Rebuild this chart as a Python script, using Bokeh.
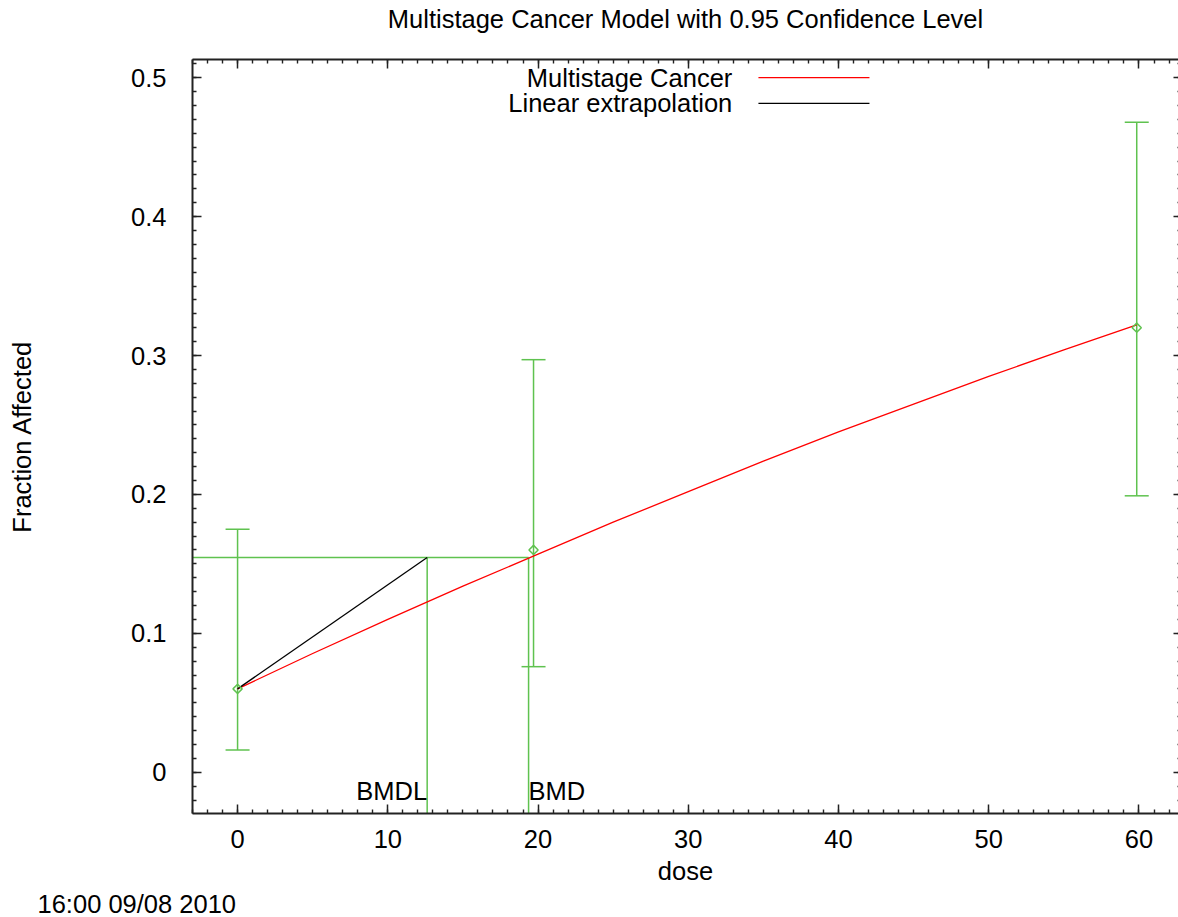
import math
from bokeh.plotting import figure
from bokeh.models import (Range1d, LinearAxis, SingleIntervalTicker, Whisker, TeeHead,
                          ColumnDataSource, Label, CustomJSTickFormatter, Title,
                          CustomLabelingPolicy)
from bokeh.embed import file_html
from bokeh.resources import INLINE

# ---- data ----
dose = [0.0, 19.7, 59.85]
frac_affected = [0.060, 0.160, 0.320]
ci_lower = [0.016, 0.076, 0.199]
ci_upper = [0.175, 0.297, 0.468]

model_dose = [0, 5, 10, 15, 20, 25, 30, 35, 40, 45, 50, 55, 59.85]
model_frac = [0.060, 0.0855, 0.110, 0.134, 0.157, 0.180, 0.202, 0.224,
              0.245, 0.265, 0.285, 0.304, 0.322]

bmd = 19.37
bmdl = 12.62
bmr_level = 0.1546
background = 0.060

title_text = "Multistage Cancer Model with 0.95 Confidence Level"
x_label = "dose"
y_label = "Fraction Affected"
stamp = "16:00 09/08 2010"
legend_labels = ["Multistage Cancer", "Linear extrapolation"]

# ---- styling ----
FONT = "Liberation Sans"
FS = "25.5px"
GREEN = "#5fc24f"
RED = "#ff0000"
BLACK = "#000000"
AXC = "#222222"

x_start, x_end = -3.0, 62.63
y_start, y_end = -0.0297, 0.5131

p = figure(width=1178, height=917, x_range=Range1d(x_start, x_end),
           y_range=Range1d(y_start, y_end), output_backend="svg",
           toolbar_location=None, min_border_left=192, min_border_right=0,
           min_border_top=59, min_border_bottom=104)
p.xgrid.visible = False
p.ygrid.visible = False
p.outline_line_color = None
p.background_fill_color = "white"
p.border_fill_color = "white"
p.title.visible = False

yfmt = CustomJSTickFormatter(code="return Number(tick.toFixed(2)).toString();")
no_labels = CustomLabelingPolicy(code="""
try { for (let i = 0; i < indices.size; i++) indices.unset(i); }
catch (e) { for (let i = 0; i < indices.size; i++) indices.set(i, false); }
return indices;
""")


def style_axis(ax, ticker, labels=True):
    ax.ticker = ticker
    ax.axis_line_color = AXC
    ax.axis_line_width = 2
    ax.major_tick_line_color = AXC
    ax.minor_tick_line_color = AXC
    ax.major_tick_line_width = 1.5
    ax.minor_tick_line_width = 1.4
    ax.major_tick_in = 9
    ax.major_tick_out = 0
    ax.minor_tick_in = 4
    ax.minor_tick_out = 0
    ax.major_label_text_font = FONT
    ax.major_label_text_font_size = FS if labels else "0px"
    ax.major_label_text_color = BLACK
    ax.axis_label_text_font = FONT
    ax.axis_label_text_font_size = FS
    ax.axis_label_text_font_style = "normal"
    ax.axis_label_text_color = BLACK
    if not labels:
        ax.major_label_policy = no_labels


xb = p.xaxis[0]
style_axis(xb, SingleIntervalTicker(interval=10, num_minor_ticks=10))
xb.major_label_standoff = 16
xb.axis_label = x_label
xb.axis_label_standoff = 6

yl = p.yaxis[0]
style_axis(yl, SingleIntervalTicker(interval=0.1, num_minor_ticks=10))
yl.formatter = yfmt
yl.major_label_standoff = 26
yl.axis_label = y_label
yl.axis_label_standoff = 92

# top border axis carries the chart title
xt = LinearAxis()
style_axis(xt, SingleIntervalTicker(interval=10, num_minor_ticks=10), labels=False)
xt.major_label_standoff = 0
xt.axis_label = title_text
xt.axis_label_standoff = 27
p.add_layout(xt, "above")

yr = LinearAxis()
style_axis(yr, SingleIntervalTicker(interval=0.1, num_minor_ticks=10), labels=False)
yr.major_label_standoff = 0
yr.axis_line_color = None
yr.major_tick_in = 5
yr.minor_tick_in = 1
p.add_layout(yr, "right")

# timestamp at the bottom-left corner
p.add_layout(Title(text=stamp, align="left", offset=-155, text_font=FONT,
                   text_font_size=FS, text_font_style="normal", text_color=BLACK,
                   standoff=0), "below")

# ---- BMR / BMD / BMDL guide lines ----
p.segment(x0=[x_start], y0=[bmr_level], x1=[bmd], y1=[bmr_level],
          line_color=GREEN, line_width=1.5)
p.segment(x0=[bmdl, bmd], y0=[bmr_level, bmr_level], x1=[bmdl, bmd],
          y1=[y_start, y_start], line_color=GREEN, line_width=1.5)

# ---- data with error bars ----
src = ColumnDataSource(dict(dose=dose, frac=frac_affected, lo=ci_lower, hi=ci_upper))
wh = Whisker(source=src, base="dose", lower="lo", upper="hi",
             line_color=GREEN, line_width=1.5,
             lower_head=TeeHead(size=24, line_color=GREEN, line_width=1.5),
             upper_head=TeeHead(size=24, line_color=GREEN, line_width=1.5))
p.add_layout(wh)

# model curve and linear extrapolation
p.line(model_dose, model_frac, line_color=RED, line_width=1.3)
p.line([0, bmdl], [background, bmr_level], line_color=BLACK, line_width=1.3)

p.scatter("dose", "frac", source=src, marker="square", angle=math.pi / 4,
          size=6.5, fill_color=None, line_color=GREEN, line_width=1.5)

# BMD / BMDL labels
p.add_layout(Label(x=bmdl, y=-0.0137, text="BMDL", text_align="right",
                   text_baseline="alphabetic", text_font=FONT, text_font_size=FS,
                   text_color=BLACK))
p.add_layout(Label(x=bmd, y=-0.0137, text="BMD", text_align="left",
                   text_baseline="alphabetic", text_font=FONT, text_font_size=FS,
                   text_color=BLACK))

# ---- key (text right-aligned, sample line to the right) ----
key_text_x = 32.93
key_line_x0, key_line_x1 = 34.67, 42.06
key_rows_y = [0.5001, 0.4815]
key_colors = [RED, BLACK]
for lab, yy, col in zip(legend_labels, key_rows_y, key_colors):
    p.add_layout(Label(x=key_text_x, y=yy, text=lab, text_align="right",
                       text_baseline="middle", text_font=FONT, text_font_size=FS,
                       text_color=BLACK))
    p.segment(x0=[key_line_x0], y0=[yy], x1=[key_line_x1], y1=[yy],
              line_color=col, line_width=1.3)

open("out.html", "w").write(file_html(p, INLINE))
